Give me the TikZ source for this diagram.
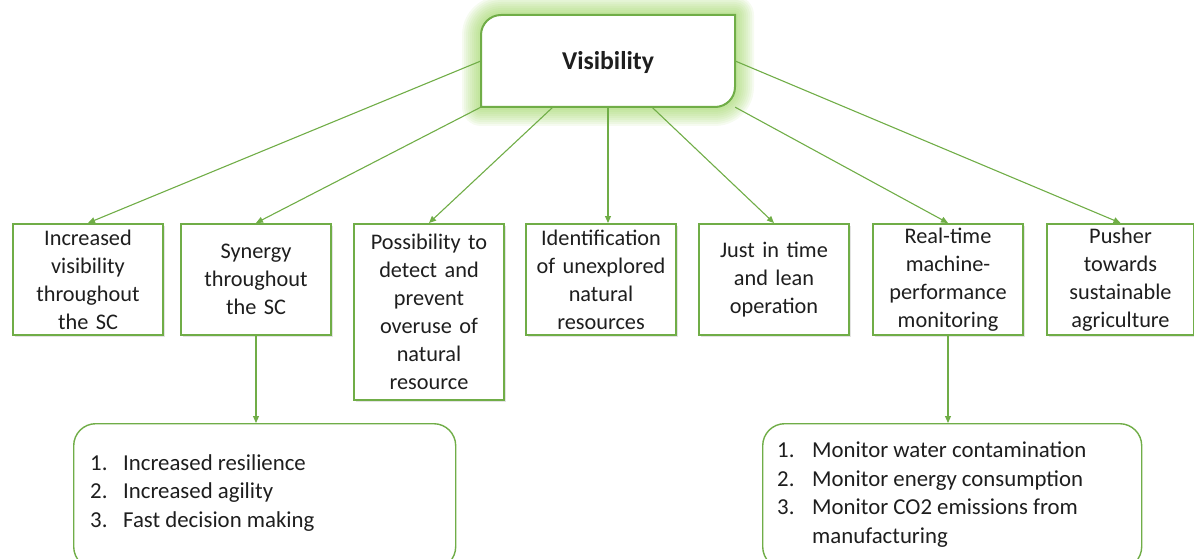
\documentclass[tikz,border=0pt]{standalone}
\usepackage{fontspec}
\setmainfont{Carlito}
\usetikzlibrary{arrows.meta,shadows,calc}
\definecolor{ogreen}{RGB}{112,173,71}
\definecolor{glowgreen}{RGB}{146,208,80}
\definecolor{txt}{RGB}{30,30,30}

\begin{document}
\begin{tikzpicture}[x=1pt,y=-1pt,
  every node/.style={text=txt, font=\fontsize{22.3pt}{28pt}\selectfont},
  topbox/.style={draw=ogreen, line width=2pt, fill=white, anchor=north west,
    minimum width=150pt, minimum height=111pt, text width=144pt, align=center,
    inner sep=3pt,
    drop shadow={shadow xshift=2pt, shadow yshift=-2pt, opacity=0.22}},
  listbox/.style={draw=ogreen, line width=1.4pt, rounded corners=22pt,
    anchor=north west, fill=white, minimum height=145pt},
  listtext/.style={anchor=west, align=left, inner sep=0pt,
    font=\fontsize{22.8pt}{28.8pt}\selectfont},
  conn/.style={draw=ogreen, line width=1.1pt, -{Triangle[length=7pt,width=6pt]}}
]
\useasboundingbox (0,0) rectangle (1194,559);
\clip (0,0) rectangle (1194,559);

% outline of the title box: rounded top-left and bottom-right corners
\def\titleoutline{(481,107) -- (481,35) arc[start angle=180, end angle=90, radius=20pt]
  -- (735,15) -- (735,87) arc[start angle=0, end angle=-90, radius=20pt] -- cycle}

% soft green glow around the title box
\foreach \w in {38,34,...,4}
  \draw[glowgreen, line width=\w pt, opacity=0.085, line join=round] \titleoutline;

\node[minimum width=254pt, minimum height=92pt, inner sep=0pt] (vis) at (608,61) {};

% second-level boxes
\node[topbox] (b1) at (12,223) {Increased\\visibility\\throughout\\the SC};
\node[topbox] (b2) at (180,223) {Synergy\\throughout\\the SC};
\node[topbox, minimum height=176pt] (b3) at (353,223)
  {Possibility to\\detect and\\prevent\\overuse of\\natural\\resource};
\node[topbox] (b4) at (525,223) {Identification\\of unexplored\\natural\\resources};
\node[topbox] (b5) at (698,223) {Just in time\\and lean\\operation};
\node[topbox] (b6) at (872,223) {Real-time\\machine-\\performance\\monitoring};
\node[topbox, minimum width=147pt, text width=141pt] (b7) at (1046,223)
  {Pusher\\towards\\sustainable\\agriculture};

% third-level boxes with numbered lists
\node[listbox, minimum width=382pt] (lbox) at (73,423) {};
\node[listtext] (ltext) at (90,493)
  {\makebox[33pt][l]{1.}Increased resilience\\
   \makebox[33pt][l]{2.}Increased agility\\
   \makebox[33pt][l]{3.}Fast decision making};
\node[listbox, minimum width=379pt] (rbox) at (762,423) {};
\node[listtext] (rtext) at (777,494.5)
  {\makebox[35pt][l]{1.}Monitor water contamination\\
   \makebox[35pt][l]{2.}Monitor energy consumption\\
   \makebox[35pt][l]{3.}Monitor CO2 emissions from\\
   \hspace*{35pt}manufacturing};

% connectors
\draw[conn] (vis.west) -- (b1.north);
\draw[conn] (vis.south west) -- (b2.north);
\draw[conn] ($(vis.south west)!0.283!(vis.south east)$) -- (b3.north);
\draw[conn] (vis.south) -- (vis.south |- b4.north);
\draw[conn] ($(vis.south west)!0.673!(vis.south east)$) -- (b5.north);
\draw[conn] (vis.south east) -- (b6.north);
\draw[conn] (vis.east) -- (b7.north);
\draw[conn] (b2.south) -- (b2.south |- lbox.north);
\draw[conn] (b6.south) -- (b6.south |- rbox.north);

% title box
\fill[white] \titleoutline;
\draw[ogreen, line width=2pt] \titleoutline;
\node[font=\fontsize{25.7pt}{30pt}\selectfont\bfseries] (vtitle) at ($(vis.center)+(0,2)$) {Visibility};
\end{tikzpicture}
\end{document}
